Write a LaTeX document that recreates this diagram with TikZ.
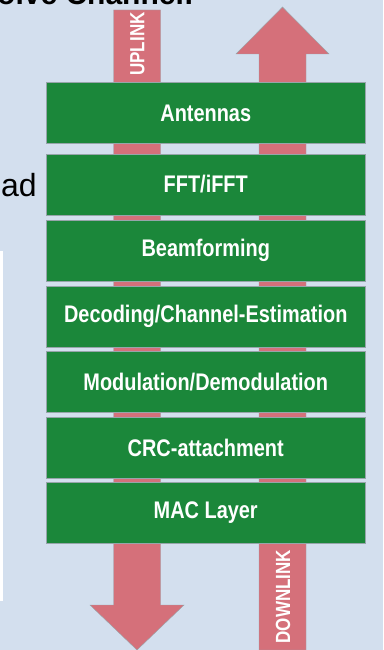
\documentclass[tikz,border=0pt]{standalone}
\usepackage{fontspec}
\setmainfont{Liberation Sans}
\newfontfamily\narrowsans[FakeStretch=0.83]{Liberation Sans}
\definecolor{slidebg}{RGB}{211,223,238}
\definecolor{layergreen}{RGB}{27,135,58}
\definecolor{flowred}{RGB}{213,112,122}
\definecolor{edgegray}{RGB}{150,165,170}
\tikzset{
  layer/.style={fill=layergreen, draw=edgegray, line width=0.6pt,
    minimum width=318.5pt, minimum height=61pt, inner sep=0pt,
    text=white, font=\narrowsans\bfseries\fontsize{24}{28}\selectfont},
  flow/.style={fill=flowred, draw=edgegray, line width=0.4pt},
  linklabel/.style={rotate=90, text=white, inner sep=0pt,
    font=\narrowsans\bfseries\fontsize{20.5}{24}\selectfont}
}
\begin{document}
\begin{tikzpicture}[x=1pt, y=-1pt]
  % slide background
  \fill[slidebg] (0,0) rectangle (383,650);
  \useasboundingbox (0,0) rectangle (383,650);

  % text running off the slide edges
  \node[anchor=base west, inner sep=0pt, font=\bfseries\fontsize{30}{34}\selectfont] (title) at (-3,4.5) {olve Channel:};
  \node[anchor=base east, inner sep=0pt, font=\fontsize{32}{36}\selectfont] (side) at (37,196) {ad};
  \fill[white] (0,251) rectangle (3.3,601);

  % uplink flow: shaft from the top, head pointing down
  \draw[flow] (113.5,10) -- (160.5,10) -- (160.5,605) -- (184,605) -- (137,650)
    -- (90,605) -- (113.5,605) -- cycle;
  % downlink flow: shaft from the bottom, head pointing up
  \draw[flow] (259,650) -- (259,54) -- (236,54) -- (282.5,7) -- (329,54)
    -- (306,54) -- (306,650) -- cycle;

  \node[linklabel] (uplink) at (137.5,44) {UPLINK};
  \node[linklabel] (downlink) at (283,596.5) {DOWNLINK};

  % protocol stack
  \node[layer] (ant)  at (205.75,113)   {Antennas};
  \node[layer] (fft)  at (205.75,184.5) {FFT/iFFT};
  \node[layer] (beam) at (205.75,250.5) {Beamforming};
  \node[layer] (dec)  at (205.75,316.5) {Decoding/Channel-Estimation};
  \node[layer] (mod)  at (205.75,382)   {Modulation/Demodulation};
  \node[layer] (crc)  at (205.75,447.5) {CRC-attachment};
  \node[layer] (mac)  at (205.75,513)   {MAC Layer};
\end{tikzpicture}
\end{document}
